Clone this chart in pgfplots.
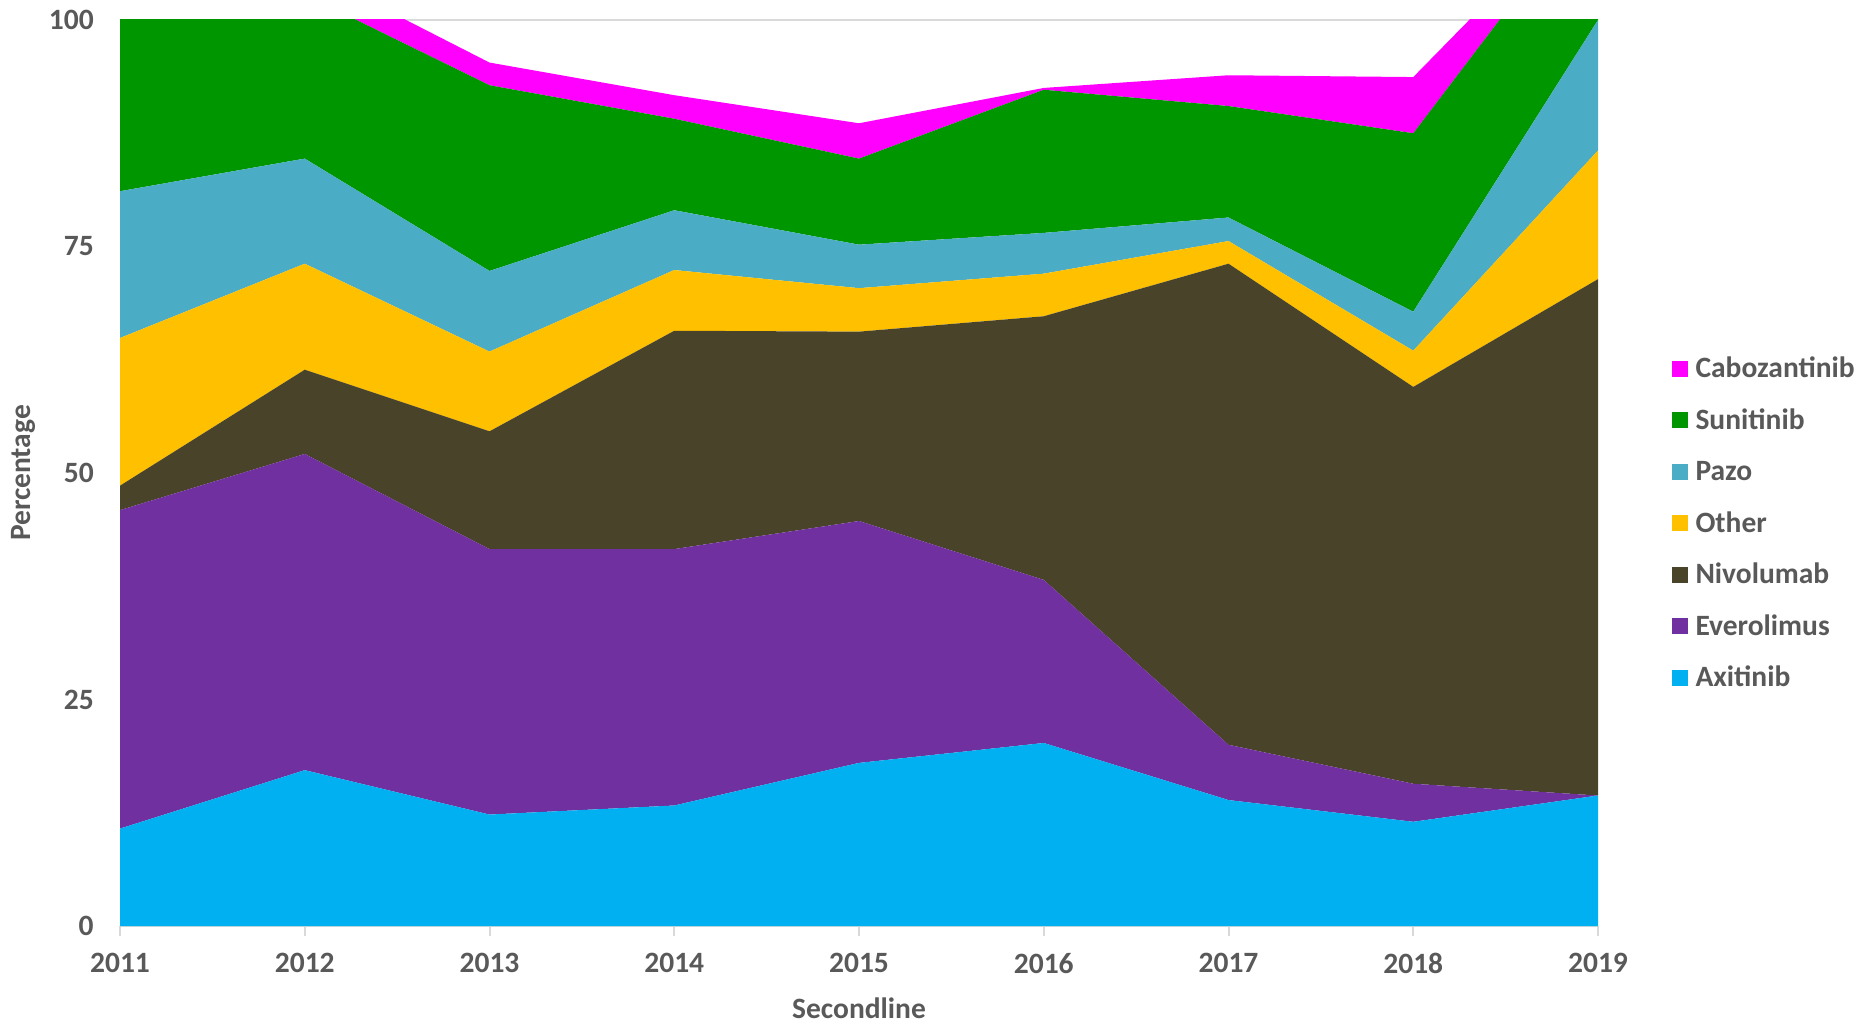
\documentclass[border=0pt]{standalone}
\usepackage{fontspec}
\setmainfont{Carlito}
\usepackage{pgfplots}
\pgfplotsset{compat=1.18}
\definecolor{axi}{HTML}{00B0F0}
\definecolor{evero}{HTML}{7030A0}
\definecolor{nivo}{HTML}{494429}
\definecolor{other}{HTML}{FFC000}
\definecolor{pazo}{HTML}{4BACC6}
\definecolor{suni}{HTML}{009600}
\definecolor{cabo}{HTML}{FF00FF}
\definecolor{txtgray}{HTML}{595959}
\definecolor{gridgray}{HTML}{D9D9D9}
\newcommand{\lblfont}{\bfseries\fontsize{11.8}{14}\selectfont}
\begin{document}
\begin{tikzpicture}
\useasboundingbox (0pt,0pt) rectangle (743.2pt,409.2pt);
\begin{axis}[
  at={(48pt,38.8pt)}, anchor=south west,
  scale only axis, width=591.2pt, height=362.4pt,
  xmin=2011, xmax=2019, ymin=0, ymax=100,
  stack plots=y,
  axis x line=bottom, axis y line=left,
  x axis line style={draw=gridgray, line width=0.8pt, -},
  y axis line style={draw=none},
  xtick={2011,2012,2013,2014,2015,2016,2017,2018,2019},
  ytick={0,25,50,75,100},
  ymajorgrids, grid style={draw=gridgray, line width=0.8pt},
  tick align=outside, major tick length=4pt,
  xtick style={draw=gridgray, line width=0.8pt},
  ytick style={draw=none},
  /pgf/number format/1000 sep={},
  /pgf/number format/assume math mode=true,
  tick label style={font=\lblfont, text=txtgray},
  xticklabel style={yshift=-3.5pt},
  yticklabel style={xshift=-3pt},
  xlabel={Secondline}, ylabel={Percentage},
  label style={font=\lblfont, text=txtgray},
  xlabel style={at={(axis description cs:0.5,-0.0905)}, anchor=center},
  ylabel style={at={(axis description cs:-0.065,0.5)}, anchor=center},
  reverse legend,
  legend cell align=left,
  legend style={at={(axis description cs:1.0494,0.4443)}, anchor=west,
    draw=none, fill=none, inner sep=0pt, font=\lblfont, text=txtgray,
    nodes={inner sep=0pt, text height=7.2pt, text depth=0pt},
    row sep=13.4pt, column sep=3.2pt},
  legend image code/.code={\fill[#1] (0pt,-3.2pt) rectangle (6.4pt,3.2pt);},
]
\addplot[fill=axi, draw=none] coordinates {(2011,10.75) (2012,17.2) (2013,12.3) (2014,13.3) (2015,18.0) (2016,20.2) (2017,13.9) (2018,11.5) (2019,14.4)} \closedcycle;
\addlegendentry{Axitinib}
\addplot[fill=evero, draw=none] coordinates {(2011,35.15) (2012,34.9) (2013,29.3) (2014,28.3) (2015,26.7) (2016,18.0) (2017,6.1) (2018,4.2) (2019,0)} \closedcycle;
\addlegendentry{Everolimus}
\addplot[fill=nivo, draw=none] coordinates {(2011,2.7) (2012,9.3) (2013,13.0) (2014,24.1) (2015,20.9) (2016,29.1) (2017,53.1) (2018,43.8) (2019,57.0)} \closedcycle;
\addlegendentry{Nivolumab}
\addplot[fill=other, draw=none] coordinates {(2011,16.3) (2012,11.7) (2013,8.8) (2014,6.7) (2015,4.8) (2016,4.7) (2017,2.5) (2018,4.0) (2019,14.2)} \closedcycle;
\addlegendentry{Other}
\addplot[fill=pazo, draw=none] coordinates {(2011,16.2) (2012,11.6) (2013,8.9) (2014,6.6) (2015,4.8) (2016,4.5) (2017,2.6) (2018,4.3) (2019,14.4)} \closedcycle;
\addlegendentry{Pazo}
\addplot[fill=suni, draw=none] coordinates {(2011,22.4) (2012,18.1) (2013,20.5) (2014,10.1) (2015,9.5) (2016,15.8) (2017,12.3) (2018,19.7) (2019,14.3)} \closedcycle;
\addlegendentry{Sunitinib}
\addplot[fill=cabo, draw=none] coordinates {(2011,0) (2012,2.9) (2013,2.5) (2014,2.6) (2015,3.9) (2016,0.2) (2017,3.4) (2018,6.2) (2019,0.2)} \closedcycle;
\addlegendentry{Cabozantinib}
\end{axis}
\end{tikzpicture}
\end{document}
